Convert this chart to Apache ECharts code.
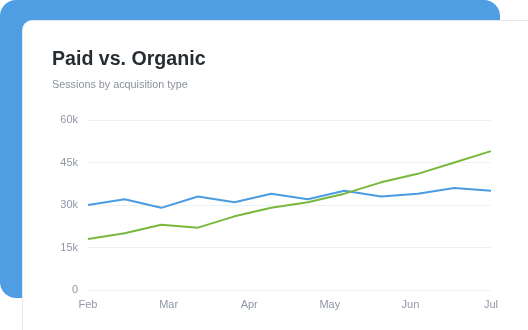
<!DOCTYPE html>
<html>
<head>
<meta charset="utf-8">
<script src="https://cdn.jsdelivr.net/npm/echarts@6/dist/echarts.min.js"></script>
<style>
	html, body { margin: 0; padding: 0; background: #fff; }
	.wrap { position: relative; width: 528px; height: 330px; overflow: hidden; }
	.back { position: absolute; left: 0; top: 0; width: 500px; height: 298px; background: #4f9ee3; border-radius: 16px; }
	.card { position: absolute; left: 22px; top: 20px; width: 540px; height: 340px; background: #fff; border: 1px solid #e3e7ee; border-radius: 10px; box-sizing: border-box; }
	#main { position: absolute; left: 0; top: 0; width: 528px; height: 330px; }
</style>
</head>
<body>
<div class="wrap">
	<div class="back"></div>
	<div class="card"></div>
	<div id="main"></div>
</div>
<script>
	// 月份标签
	var months = ['Feb', 'Mar', 'Apr', 'May', 'Jun', 'Jul'];
	// 每个数据点的位置（0 ~ 11）
	var steps = [0, 1, 2, 3, 4, 5, 6, 7, 8, 9, 10, 11];
	var paid = [30000, 32000, 29000, 33000, 31000, 34000, 32000, 35000, 33000, 34000, 36000, 35000];
	var organic = [18000, 20000, 23000, 22000, 26000, 29000, 31000, 34000, 38000, 41000, 45000, 49000];
	var yTicks = ['0', '15k', '30k', '45k', '60k'];

	var myChart = echarts.init(document.getElementById('main'));

	function pairs(arr) {
		return arr.map(function(v, i) {
			return [steps[i], v];
		});
	}

	var option = {
		animation: false,
		textStyle: { fontFamily: 'Liberation Sans, Arial, sans-serif' },
		title: {
			text: 'Paid vs. Organic',
			subtext: 'Sessions by acquisition type',
			left: 47,
			top: 45,
			itemGap: 10,
			textStyle: { fontSize: 19.6, fontWeight: 'bold', color: '#272c33' },
			subtextStyle: { fontSize: 10.8, color: '#8b919c' }
		},
		grid: { left: 88, right: 37, top: 120, bottom: 40 },
		xAxis: {
			type: 'value',
			min: 0,
			max: 11,
			interval: 2.2,
			axisLine: { show: false },
			axisTick: { show: false },
			splitLine: { show: false },
			axisLabel: {
				color: '#9097a8',
				fontSize: 11,
				margin: 9,
				formatter: function(v) {
					return months[Math.round(v / 2.2)];
				}
			}
		},
		yAxis: {
			type: 'value',
			min: 0,
			max: 60000,
			interval: 15000,
			axisLine: { show: false },
			axisTick: { show: false },
			splitLine: { lineStyle: { color: '#eef0f3', width: 1 } },
			axisLabel: {
				color: '#9097a8',
				fontSize: 11,
				margin: 10,
				formatter: function(v) {
					return yTicks[Math.round(v / 15000)];
				}
			}
		},
		series: [{
				name: 'Paid',
				type: 'line',
				data: pairs(paid),
				showSymbol: false,
				lineStyle: { color: '#4a9be2', width: 2 },
				itemStyle: { color: '#4a9be2' }
			},
			{
				name: 'Organic',
				type: 'line',
				data: pairs(organic),
				showSymbol: false,
				lineStyle: { color: '#78b83a', width: 2 },
				itemStyle: { color: '#78b83a' }
			}
		]
	};

	myChart.setOption(option);
</script>
</body>
</html>
